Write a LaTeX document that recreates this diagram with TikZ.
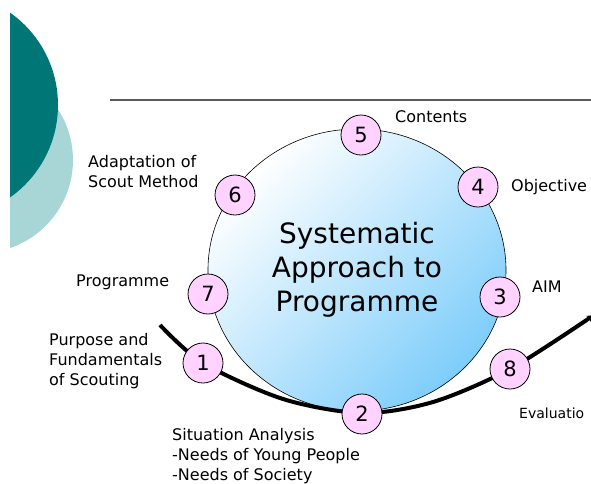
\documentclass[tikz,border=0pt]{standalone}
\usepackage{fontspec}
\setmainfont{DejaVu Sans}
\usetikzlibrary{shapes.geometric,arrows.meta}
\definecolor{darkteal}{RGB}{0,118,118}
\definecolor{lightteal}{RGB}{168,214,214}
\definecolor{pinkfill}{RGB}{255,210,255}
\definecolor{skyb}{RGB}{125,205,250}
\definecolor{rulegray}{RGB}{90,90,90}
\begin{document}
\begin{tikzpicture}[x=1pt,y=-1pt,
  num/.style={circle, draw=black, line width=0.8pt, fill=pinkfill, minimum size=40pt, inner sep=0pt, font=\fontsize{21}{24}\selectfont},
  lab/.style={anchor=west, align=left, inner sep=0pt, font=\fontsize{16}{20}\selectfont},
  curveline/.style={line width=4pt, black}]
\useasboundingbox (0,0) rectangle (591,483);
% background decoration
\begin{scope}
  \clip (10,0) rectangle (591,483);
  \fill[lightteal] (-20,160) circle[radius=93];
  \fill[darkteal] (-55,105) circle[radius=113];
\end{scope}
% rule
\coordinate (ruleL) at (110,100);
\coordinate (ruleR) at (591,100);
\draw[rulegray, line width=1.2pt] (ruleL) -- (ruleR);
% big circle
\node[draw=black, line width=0.6pt, ellipse, minimum width=298pt, minimum height=282pt, inner sep=0pt,
      top color=white, bottom color=skyb, shading angle=45, align=center,
      font=\fontsize{28}{34}\selectfont] (big) at (357,270) {Systematic\\Approach to\\Programme};
% curve points
\coordinate (cstart) at (160,325);
\coordinate (p1) at (203,363);
\coordinate (q1) at (283,399);
\coordinate (p2) at (362,413);
\coordinate (q2) at (433,402);
\coordinate (p8) at (510,369);
\coordinate (cend) at (594,315);
\draw[curveline, -{Stealth[length=7pt,width=7pt]}] plot[smooth] coordinates {(cstart) (p1) (q1) (p2) (q2) (p8) (cend)};
% numbered circles
\node[num] (n1) at (p1) {1};
\node[num] (n2) at (362,414) {2};
\node[num] (n3) at (500,297) {3};
\node[num] (n4) at (478,187) {4};
\node[num] (n5) at (361,135) {5};
\node[num] (n6) at (235,195) {6};
\node[num] (n7) at (208,294) {7};
\node[num] (n8) at (p8) {8};
% labels
\node[lab] (l5) at (395,117) {Contents};
\node[lab] (l4) at (511,187) {Objective};
\node[lab] (l3) at (532,287) {AIM};
\node[lab] (l6) at (88,172) {Adaptation of\\Scout Method};
\node[lab] (l7) at (76,282) {Programme};
\node[lab] (l1) at (49,361) {Purpose and\\Fundamentals\\of Scouting};
\node[lab] (l2) at (172,456) {Situation Analysis\\-Needs of Young People\\-Needs of Society};
\node[lab, font=\fontsize{14}{20}\selectfont] (l8) at (519,413) {Evaluatio};
\end{tikzpicture}
\end{document}
